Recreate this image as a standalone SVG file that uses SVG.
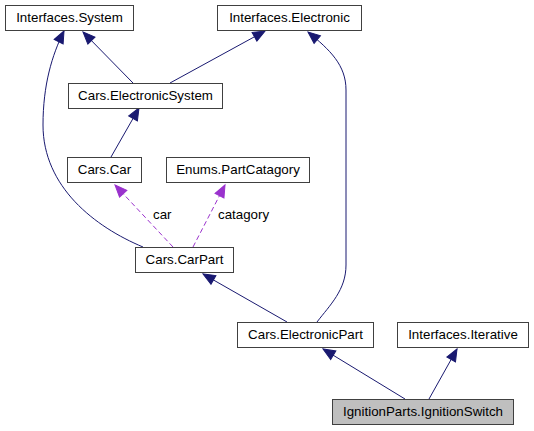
<svg xmlns="http://www.w3.org/2000/svg" width="534" height="431" viewBox="0 0 534 431">
<style>
.n rect{fill:#ffffff;stroke:#404040;stroke-width:1}
.n.cur rect{fill:#bfbfbf}
.n text{font-family:"Liberation Sans",Arial,sans-serif;font-size:13.33px;fill:#000;text-anchor:middle}
.e{fill:none;stroke:#191970;stroke-width:1}
.u{fill:none;stroke:#9a32cd;stroke-width:1;stroke-dasharray:5,3}
.l{font-family:"Liberation Sans",Arial,sans-serif;font-size:13.33px;fill:#000}
</style>
<defs>
<marker id="ah" markerUnits="userSpaceOnUse" markerWidth="14" markerHeight="12" refX="12" refY="5" orient="auto" overflow="visible">
<path d="M0,0 L12,5 L0,10 z" fill="#191970" stroke="#191970" stroke-width="1"/>
</marker>
<marker id="ap" markerUnits="userSpaceOnUse" markerWidth="14" markerHeight="12" refX="12" refY="5" orient="auto" overflow="visible">
<path d="M0,0 L12,5 L0,10 z" fill="#9a32cd" stroke="#9a32cd" stroke-width="1"/>
</marker>
</defs>
<g id="edges">
<path class="e" d="M133,83 L83,32" marker-end="url(#ah)"/>
<path class="e" d="M170,83 L265,31" marker-end="url(#ah)"/>
<path class="e" d="M111,157 L139,108" marker-end="url(#ah)"/>
<path class="e" d="M143,247 C95,227 43,187 43,125 C43,85 52,55 64,31" marker-end="url(#ah)"/>
<path class="e" d="M317,322 C330,305 346,290 346,265 L346,90 C346,65 330,50 308,32" marker-end="url(#ah)"/>
<path class="e" d="M287,322 L203,274" marker-end="url(#ah)"/>
<path class="e" d="M405,399 L323,349" marker-end="url(#ah)"/>
<path class="e" d="M429,399 L457,349" marker-end="url(#ah)"/>
<path class="u" d="M173,247 L115,185" marker-end="url(#ap)"/>
<path class="u" d="M193,247 L225,185" marker-end="url(#ap)"/>
<text class="l" x="153" y="219">car</text>
<text class="l" x="218" y="219">catagory</text>
</g>
<g id="Interfaces.System" class="n"><rect x="5.5" y="5.5" width="128" height="25"/><text x="69.5" y="22">Interfaces.System</text></g>
<g id="Interfaces.Electronic" class="n"><rect x="217.5" y="5.5" width="144" height="25"/><text x="289.5" y="22">Interfaces.Electronic</text></g>
<g id="Cars.ElectronicSystem" class="n"><rect x="68.5" y="83.5" width="154" height="25"/><text x="145.5" y="100">Cars.ElectronicSystem</text></g>
<g id="Cars.Car" class="n"><rect x="67.5" y="157.5" width="74" height="25"/><text x="104.5" y="174">Cars.Car</text></g>
<g id="Enums.PartCatagory" class="n"><rect x="166.5" y="157.5" width="143" height="25"/><text x="238" y="174">Enums.PartCatagory</text></g>
<g id="Cars.CarPart" class="n"><rect x="135.5" y="247.5" width="98" height="25"/><text x="184.5" y="264">Cars.CarPart</text></g>
<g id="Cars.ElectronicPart" class="n"><rect x="237.5" y="322.5" width="136" height="25"/><text x="305.5" y="339">Cars.ElectronicPart</text></g>
<g id="Interfaces.Iterative" class="n"><rect x="397.5" y="322.5" width="131" height="25"/><text x="463" y="339">Interfaces.Iterative</text></g>
<g id="IgnitionParts.IgnitionSwitch" class="n cur"><rect x="332.5" y="399.5" width="181" height="25"/><text x="423" y="416">IgnitionParts.IgnitionSwitch</text></g>
</svg>
